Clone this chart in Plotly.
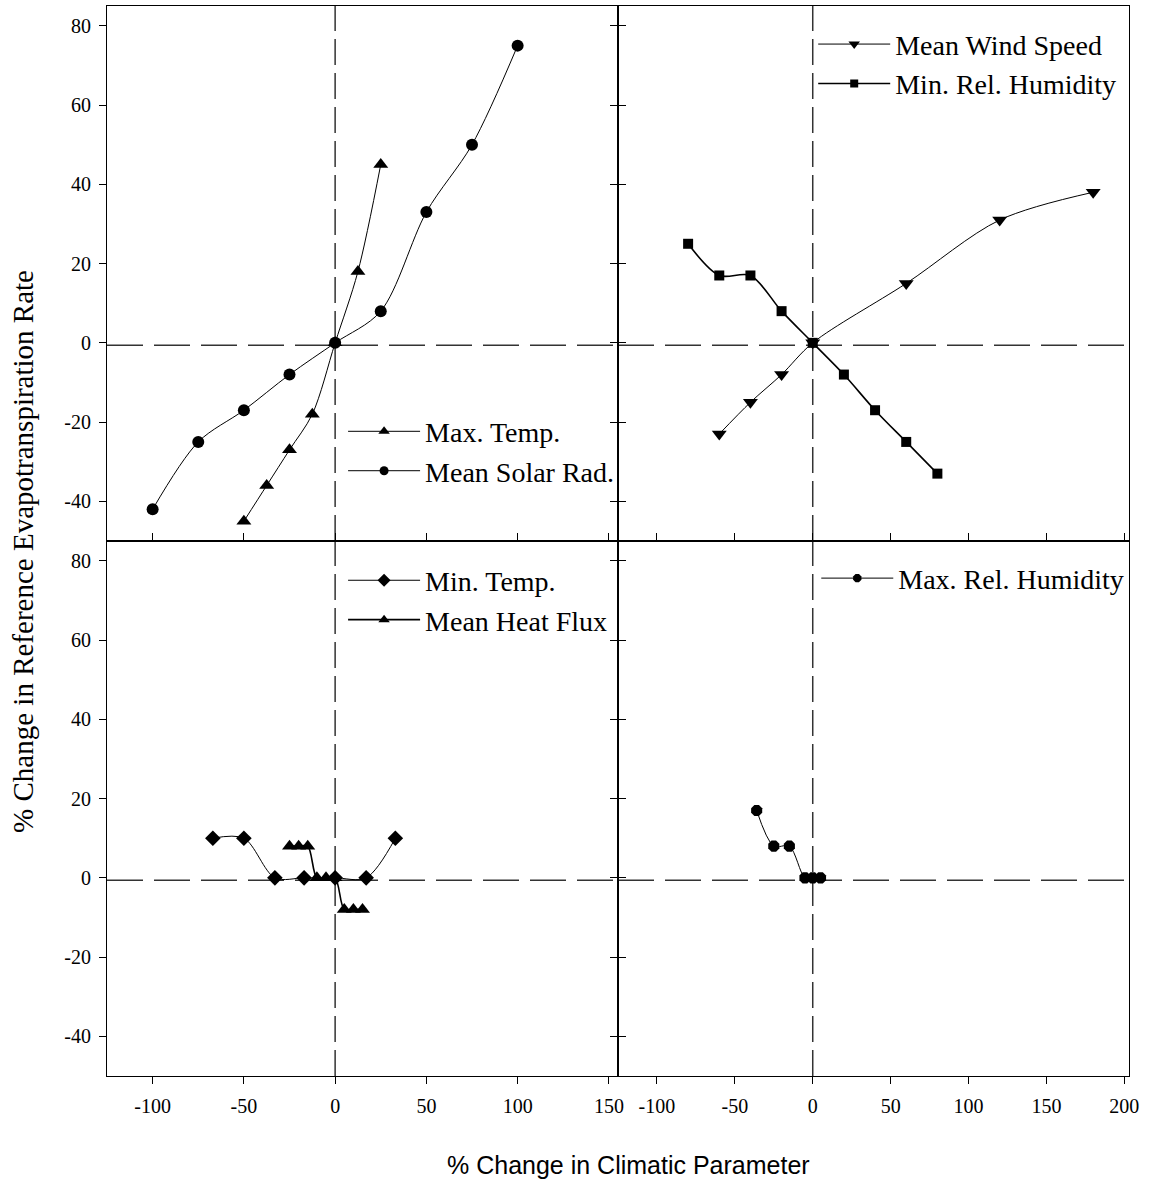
import plotly.graph_objects as go

# ---------------- data ----------------
max_temp_x = [-50, -37.5, -25, -12.5, 0, 12.5, 25]
max_temp_y = [-45, -36, -27, -18, 0, 18, 45]
solar_x = [-100, -75, -50, -25, 0, 25, 50, 75, 100]
solar_y = [-42, -25, -17, -8, 0, 8, 33, 50, 75]

wind_x = [-60, -40, -20, 0, 60, 120, 180]
wind_y = [-23, -15, -8, 0, 15, 31, 38]
min_rh_x = [-80, -60, -40, -20, 0, 20, 40, 60, 80]
min_rh_y = [25, 17, 17, 8, 0, -8, -17, -25, -33]

min_temp_x = [-67, -50, -33, -17, 0, 17, 33]
min_temp_y = [10, 10, 0, 0, 0, 0, 10]
heat_x = [-25, -20, -15, -10, -5, 0, 5, 10, 15]
heat_y = [8, 8, 8, 0, 0, 0, -8, -8, -8]

max_rh_x = [-36, -25, -15, -5, 0, 5]
max_rh_y = [17, 8, 8, 0, 0, 0]

y_ticks = [-40, -20, 0, 20, 40, 60, 80]
y_tick_text = ["-40", "-20", "0", "20", "40", "60", "80"]
x_ticks_left = [-100, -50, 0, 50, 100, 150]
x_tick_text_left = ["-100", "-50", "0", "50", "100", "150"]
x_ticks_right = [-100, -50, 0, 50, 100, 150, 200]
x_tick_text_right = ["-100", "-50", "0", "50", "100", "150", "200"]

x_title = "% Change in Climatic Parameter"
y_title = "% Change in Reference Evapotranspiration Rate"

# ---------------- style ----------------
SERIF = "Liberation Serif"
SANS = "Liberation Sans"
ZERO_OFFSET = -0.6

fig = go.Figure()

series = [
    # (x, y, name, symbol, size, legend size, xaxis, yaxis, legend, linewidth)
    (max_temp_x, max_temp_y, "Max. Temp.", "triangle-up", 13, 10, "x", "y", "legend", 1),
    (solar_x, solar_y, "Mean Solar Rad.", "circle", 12, 9, "x", "y", "legend", 1),
    (wind_x, wind_y, "Mean Wind Speed", "triangle-down", 13, 10, "x2", "y2", "legend2", 1),
    (min_rh_x, min_rh_y, "Min. Rel. Humidity", "square", 10, 8, "x2", "y2", "legend2", 1.6),
    (min_temp_x, min_temp_y, "Min. Temp.", "diamond", 12, 10, "x3", "y3", "legend3", 1),
    (heat_x, heat_y, "Mean Heat Flux", "triangle-up", 13, 10, "x3", "y3", "legend3", 1.6),
    (max_rh_x, max_rh_y, "Max. Rel. Humidity", "octagon", 12, 9, "x4", "y4", "legend4", 1),
]

for xs, ys, name, sym, sz, lsz, xa, ya, lg, lw in series:
    fig.add_trace(go.Scatter(
        x=xs, y=ys, mode="lines+markers", name=name,
        line=dict(color="black", width=lw, shape="spline", smoothing=0.9),
        marker=dict(symbol=sym, size=sz, color="black"),
        xaxis=xa, yaxis=ya, showlegend=False,
    ))
    # legend-only entry with smaller marker
    fig.add_trace(go.Scatter(
        x=[None], y=[None], mode="lines+markers", name=name,
        line=dict(color="black", width=lw),
        marker=dict(symbol=sym, size=lsz, color="black"),
        xaxis=xa, yaxis=ya, showlegend=True, legend=lg,
    ))

# dashed zero lines
for xa, ya in [("x", "y"), ("x2", "y2"), ("x3", "y3"), ("x4", "y4")]:
    fig.add_shape(type="line", xref=f"{xa} domain", yref=ya, x0=0, x1=1,
                  y0=ZERO_OFFSET, y1=ZERO_OFFSET,
                  line=dict(color="#333", width=1.5, dash="36px,11px"), layer="below")
    fig.add_shape(type="line", xref=xa, yref=f"{ya} domain", x0=0, x1=0,
                  y0=0, y1=1,
                  line=dict(color="#333", width=1.5, dash="26px,8px"), layer="below")

tickfont = dict(family=SERIF, size=20, color="black")
ax_common = dict(showline=True, linecolor="black", linewidth=1.2, zeroline=False,
                 showgrid=False, tickcolor="black", ticklen=7, tickwidth=1.2,
                 tickfont=tickfont)

xl = [-125, 155]
xr = [-125, 203]
yr = [-50, 85]

fig.update_layout(
    xaxis=dict(domain=[0, 0.5], anchor="y", range=xl, ticks="", showticklabels=False,
               mirror=True, **ax_common),
    yaxis=dict(domain=[0.5, 1], anchor="x", range=yr, ticks="outside", mirror="ticks",
               tickvals=y_ticks, ticktext=y_tick_text, ticklabelstandoff=4, **ax_common),
    xaxis2=dict(domain=[0.5, 1], anchor="y2", range=xr, ticks="", showticklabels=False,
                mirror=True, **ax_common),
    yaxis2=dict(domain=[0.5, 1], anchor="x2", range=yr, ticks="outside", mirror=True,
                tickvals=y_ticks, showticklabels=False, **ax_common),
    xaxis3=dict(domain=[0, 0.5], anchor="y3", range=xl, ticks="outside", mirror="ticks",
                tickvals=x_ticks_left, ticktext=x_tick_text_left, ticklabelstandoff=5,
                **ax_common),
    yaxis3=dict(domain=[0, 0.5], anchor="x3", range=yr, ticks="outside", mirror="ticks",
                tickvals=y_ticks, ticktext=y_tick_text, ticklabelstandoff=4, **ax_common),
    xaxis4=dict(domain=[0.5, 1], anchor="y4", range=xr, ticks="outside", mirror="ticks",
                tickvals=x_ticks_right, ticktext=x_tick_text_right, ticklabelstandoff=5,
                **ax_common),
    yaxis4=dict(domain=[0, 0.5], anchor="x4", range=yr, ticks="outside", mirror=True,
                tickvals=y_ticks, showticklabels=False, **ax_common),
)

leg_common = dict(font=dict(family=SERIF, size=28, color="black"), bgcolor="rgba(0,0,0,0)",
                  itemwidth=72, xanchor="left", yanchor="top", tracegroupgap=0,
                  itemclick=False)
fig.update_layout(
    legend=dict(x=0.231, y=0.6256, **leg_common),
    legend2=dict(x=0.691, y=0.9875, **leg_common),
    legend3=dict(x=0.231, y=0.4864, **leg_common),
    legend4=dict(x=0.694, y=0.4884, **leg_common),
)

fig.add_annotation(text=x_title, xref="paper", yref="paper", x=0.51, y=-0.083,
                   xanchor="center", yanchor="middle", showarrow=False,
                   font=dict(family=SANS, size=25, color="black"))
fig.add_annotation(text=y_title, xref="paper", yref="paper", x=-0.082, y=0.49,
                   xanchor="center", yanchor="middle", showarrow=False, textangle=-90,
                   font=dict(family=SERIF, size=29, color="black"))

fig.update_layout(
    width=1153, height=1182,
    margin=dict(l=107, r=24, t=6, b=106),
    paper_bgcolor="white", plot_bgcolor="white",
)

fig.write_html("out.html", config={"displayModeBar": False},
               post_script="document.body.style.margin='0px';")
